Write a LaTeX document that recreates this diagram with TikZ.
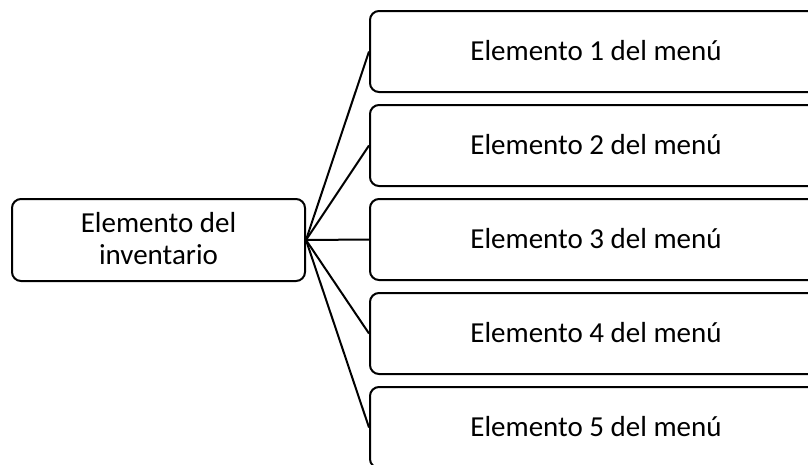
\documentclass[tikz,border=0pt]{standalone}
\usepackage{fontspec}
\setmainfont{Carlito}
\begin{document}
\begin{tikzpicture}[x=1pt,y=-1pt,
  box/.style={draw=black,line width=2pt,rounded corners=9pt,fill=white,inner sep=0pt,anchor=north west},
  lbl/.style={font=\fontsize{29}{32}\selectfont,align=center},
  conn/.style={draw=black,line width=2pt}]
\useasboundingbox (0,0) rectangle (808,464);
\begin{scope}
\clip (0,0) rectangle (808,464);
\node[box,minimum width=293pt,minimum height=82pt] (inv) at (11,198) {};
\node[lbl] at ([yshift=1pt]inv.center) {Elemento del\\inventario};
\foreach \i/\y in {1/10,2/104,3/198,4/292,5/386}{
  \node[box,minimum width=452pt,minimum height=81pt] (m\i) at (369,\y) {};
  \node[lbl] at ([yshift=1pt]m\i.center) {Elemento \i{} del menú};
  \draw[conn] (inv.east) -- (m\i.west);
}
\end{scope}
\end{tikzpicture}
\end{document}
